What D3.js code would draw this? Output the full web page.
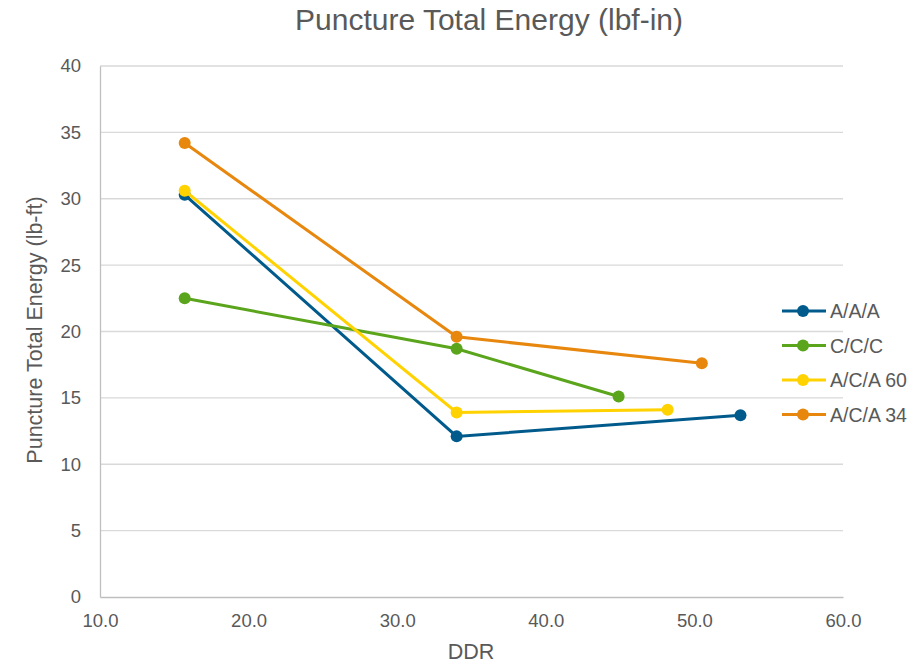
<!DOCTYPE html>
<html>
<head>
<meta charset="utf-8">
<script src="https://cdn.jsdelivr.net/npm/d3@7"></script>
<style>
  body { margin: 0; background: #fff; }
  text { font-family: "Liberation Sans", Arial, sans-serif; fill: #595959; }
</style>
</head>
<body>
<section></section>
<script>
// datos del grafico
var series = ["A/A/A", "C/C/C", "A/C/A 60", "A/C/A 34"]
var colores = ["#005a8b", "#5aa51c", "#ffd200", "#e8870e"]

var ddrAAA = [15.7, 34.0, 53.1]
var energiaAAA = [30.3, 12.1, 13.7]
var ddrCCC = [15.7, 34.0, 44.9]
var energiaCCC = [22.5, 18.7, 15.1]
var ddrACA60 = [15.7, 34.0, 48.2]
var energiaACA60 = [30.6, 13.9, 14.1]
var ddrACA34 = [15.7, 34.0, 50.5]
var energiaACA34 = [34.2, 19.6, 17.6]

var ticksX = [10, 20, 30, 40, 50, 60]
var ticksY = [0, 5, 10, 15, 20, 25, 30, 35, 40]

var datos = [
    { nombre: series[0], x: ddrAAA, y: energiaAAA },
    { nombre: series[1], x: ddrCCC, y: energiaCCC },
    { nombre: series[2], x: ddrACA60, y: energiaACA60 },
    { nombre: series[3], x: ddrACA34, y: energiaACA34 }
]

var width = 924
var height = 665
var margin = { top: 66, bottom: 68, left: 100, right: 81 }

var lienzosvg = d3.select("section")
    .append("svg")
    .attr("width", width)
    .attr("height", height)

var escalaX = d3.scaleLinear()
    .domain([10, 60])
    .range([margin.left, width - margin.right])

var escalaY = d3.scaleLinear()
    .domain([0, 40])
    .range([height - margin.bottom, margin.top])

// lineas de la cuadricula
lienzosvg.append("g")
    .selectAll("line")
    .data(ticksY.filter(d => d > 0))
    .enter()
    .append("line")
    .attr("x1", escalaX(10))
    .attr("x2", escalaX(60))
    .attr("y1", d => escalaY(d))
    .attr("y2", d => escalaY(d))
    .attr("stroke", "#d9d9d9")
    .attr("stroke-width", 1.3)

// eje Y
var ejeY = d3.axisLeft(escalaY).tickValues(ticksY).tickSize(0).tickPadding(19)
var gY = lienzosvg.append("g")
    .attr("transform", "translate(" + margin.left + ",0)")
    .call(ejeY)
gY.select(".domain").attr("stroke", "#bfbfbf").attr("stroke-width", 1.3)
gY.selectAll("text").style("font-size", "18.5px").attr("fill", "#595959")
    .style("font-family", "Liberation Sans, Arial, sans-serif")

// eje X
var ejeX = d3.axisBottom(escalaX).tickValues(ticksX).tickSize(0).tickPadding(17)
    .tickFormat(d3.format(".1f"))
var gX = lienzosvg.append("g")
    .attr("transform", "translate(0," + (height - margin.bottom) + ")")
    .call(ejeX)
gX.select(".domain").attr("stroke", "#bfbfbf").attr("stroke-width", 1.3)
gX.selectAll("text").style("font-size", "18.5px").attr("fill", "#595959")
    .style("font-family", "Liberation Sans, Arial, sans-serif")

// titulo
lienzosvg.append("text")
    .attr("x", 489)
    .attr("y", 30)
    .attr("text-anchor", "middle")
    .style("font-size", "30px")
    .text("Puncture Total Energy (lbf-in)")

// etiquetas de los ejes
lienzosvg.append("text")
    .attr("x", 471)
    .attr("y", 659)
    .attr("text-anchor", "middle")
    .style("font-size", "21.5px")
    .text("DDR")

lienzosvg.append("text")
    .attr("transform", "translate(42,330) rotate(-90)")
    .attr("text-anchor", "middle")
    .style("font-size", "21.5px")
    .text("Puncture Total Energy (lb-ft)")

// series
var linea = d3.line()
    .x(d => escalaX(d[0]))
    .y(d => escalaY(d[1]))

datos.forEach(function (s, i) {
    var puntos = d3.zip(s.x, s.y)
    lienzosvg.append("path")
        .datum(puntos)
        .attr("d", linea)
        .attr("fill", "none")
        .attr("stroke", colores[i])
        .attr("stroke-width", 3)
    lienzosvg.append("g")
        .selectAll("circle")
        .data(puntos)
        .enter()
        .append("circle")
        .attr("cx", d => escalaX(d[0]))
        .attr("cy", d => escalaY(d[1]))
        .attr("r", 6)
        .attr("fill", colores[i])
})

// leyenda
var leyenda = lienzosvg.append("g")
    .selectAll("g")
    .data(series)
    .enter()
    .append("g")
    .attr("transform", (d, i) => "translate(782," + (311 + i * 34.5) + ")")

leyenda.append("line")
    .attr("x1", 0).attr("x2", 44)
    .attr("stroke", (d, i) => colores[i])
    .attr("stroke-width", 3)
leyenda.append("circle")
    .attr("cx", 21).attr("r", 6)
    .attr("fill", (d, i) => colores[i])
leyenda.append("text")
    .attr("x", 48)
    .attr("dy", "0.36em")
    .style("font-size", "19.5px")
    .text(d => d)
</script>
</body>
</html>
